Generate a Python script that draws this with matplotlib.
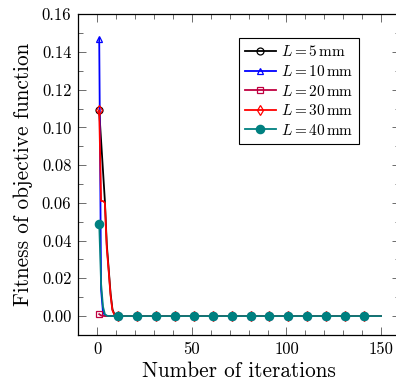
import numpy as np
import matplotlib
matplotlib.use('Agg')
import matplotlib.pyplot as plt
from matplotlib.ticker import MultipleLocator, FuncFormatter

plt.rcParams['font.family'] = 'cmr10'
plt.rcParams['mathtext.fontset'] = 'cm'
plt.rcParams['axes.formatter.use_mathtext'] = True
plt.rcParams['axes.unicode_minus'] = False

#data, iterations 1..150
n_iter = 150
iterations = np.arange(1, n_iter + 1)

head_5mm = [0.109, 0.093, 0.077, 0.061, 0.038, 0.025, 0.012, 0.0035, 0.001, 0.0002]
head_10mm = [0.147, 0.014, 0.002, 0.0004, 0.0001]
head_20mm = [0.001, 0.0003, 0.0001]
head_30mm = [0.109, 0.061, 0.061, 0.060, 0.036, 0.024, 0.011, 0.003, 0.0008, 0.0002]
head_40mm = [0.049, 0.017, 0.005, 0.001, 0.0002]

labels = [r'$L = 5\,\mathrm{mm}$', r'$L = 10\,\mathrm{mm}$', r'$L = 20\,\mathrm{mm}$',
          r'$L = 30\,\mathrm{mm}$', r'$L = 40\,\mathrm{mm}$']

def pad(h):
    return np.array(h + [0.0] * (n_iter - len(h)))

series = [pad(head_5mm), pad(head_10mm), pad(head_20mm), pad(head_30mm), pad(head_40mm)]

#styles
colors = ['black', 'blue', '#BF0040', 'red', '#008080']
markers = ['o', '^', 's', 'd', 'o']
fills = ['none', 'none', 'none', 'none', '#008080']
msizes = [5.0, 5.0, 5.0, 5.0, 6.0]

fig = plt.figure(figsize=(3.96, 3.85), dpi=100)
ax = fig.add_axes([78.4/396, 50.1/385, 321.6/396, 320.6/385])

for y, c, m, f, ms, lab in zip(series, colors, markers, fills, msizes, labels):
    ax.plot(iterations, y, color=c, marker=m, markerfacecolor=f, markeredgecolor=c,
            markersize=ms, markeredgewidth=0.9, lw=1.3, markevery=10, label=lab)

ax.set_xlim(-10, 160)
ax.set_ylim(-0.01, 0.16)
ax.xaxis.set_major_locator(MultipleLocator(50))
ax.xaxis.set_minor_locator(MultipleLocator(10))
ax.yaxis.set_major_locator(MultipleLocator(0.02))
ax.yaxis.set_minor_locator(MultipleLocator(0.01))
ax.yaxis.set_major_formatter(FuncFormatter(lambda v, p: '%.2f' % v))
ax.xaxis.set_major_formatter(FuncFormatter(lambda v, p: '%d' % v))

ax.tick_params(which='both', direction='in', top=True, right=True, color='#555555', width=0.6)
ax.tick_params(which='major', length=5.8, labelsize=12, pad=5)
ax.tick_params(which='minor', length=3.8)
for s in ax.spines.values():
    s.set_linewidth(0.9)

ax.set_xlabel('Number of iterations', fontsize=15.3, labelpad=3)
ax.set_ylabel('Fitness of objective function', fontsize=15.3, labelpad=6)

leg = ax.legend(loc='upper left', bbox_to_anchor=(0.499, 0.925), borderaxespad=0,
                fontsize=11, handlelength=2.0, handletextpad=0.35, labelspacing=0.3,
                borderpad=0.4, fancybox=False, framealpha=1, edgecolor='black')
leg.get_frame().set_linewidth(0.8)

plt.savefig('out.png', dpi=100)
